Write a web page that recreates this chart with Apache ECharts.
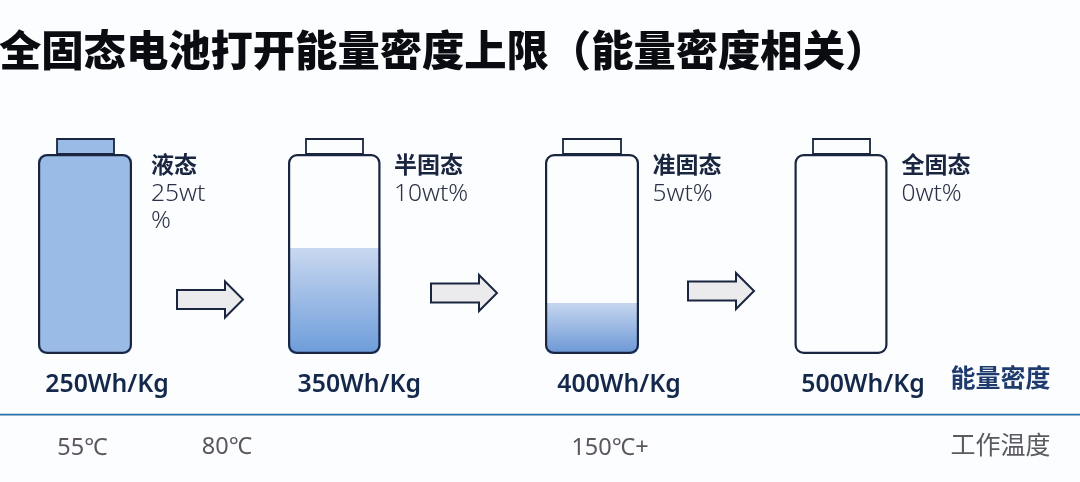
<!DOCTYPE html>
<html><head><meta charset="utf-8">
<style>html,body{margin:0;padding:0;background:#fcfdfe}#c{width:1080px;height:482px}</style>
<script src="https://cdn.jsdelivr.net/npm/echarts@6/dist/echarts.min.js"></script>
</head><body><div id="c"></div>
<script>
const title = '全固态电池打开能量密度上限（能量密度相关）';
const states = ['液态', '半固态', '准固态', '全固态'];
const wtLabels = ['25wt\n%', '10wt%', '5wt%', '0wt%'];
const energyLabels = ['250Wh/Kg', '350Wh/Kg', '400Wh/Kg', '500Wh/Kg'];
const fillLevels = [100, 53, 25.5, 0];
const capacity = [100, 100, 100, 100];
const temperatures = ['55℃', '80℃', '150℃+'];
const energyAxisName = '能量密度';
const tempAxisName = '工作温度';

const INK = '#1a2540', CJK = '"Noto Sans CJK SC"', LAT = '"Noto Sans","Noto Sans CJK SC"';
const boxes = [[38, 94], [288, 92.5], [545, 94], [794.5, 93]];
const labelShift = [22, 25, 27, 22];
const capBoxes = [[57, 57], [306, 57], [563, 58], [813, 57]];
const textX = [151, 394, 652.5, 901.5];
const arrows = [[177, 299.5], [431, 293], [688, 291]];
const tempPos = [[82.5, 448], [227, 447], [610, 448]];
const fills = [
  '#9abbe6',
  {type:'linear',x:0,y:0,x2:0,y2:1,colorStops:[{offset:0,color:'#c9d8f0'},{offset:1,color:'#6c9cda'}]},
  {type:'linear',x:0,y:0,x2:0,y2:1,colorStops:[{offset:0,color:'#c6d6ef'},{offset:1,color:'#6b97d5'}]},
  'transparent'
];

const grid = [], xAxis = [], yAxis = [], series = [], graphic = [];
states.forEach((s, i) => {
  const [l, w] = boxes[i];
  grid.push({left:l, width:w, top:154, height:200, containLabel:false});
  xAxis.push({type:'category', gridIndex:i, data:[energyLabels[i]],
    axisLine:{show:false}, axisTick:{show:false},
    axisLabel:{interval:0, hideOverlap:false, margin:19, fontFamily:LAT, fontSize:24.8, fontWeight:600, color:'#14284b',
      padding:[0,0,0,labelShift[i]*2]}});
  yAxis.push({type:'value', gridIndex:i, min:0, max:100, show:false});
  series.push({type:'bar', xAxisIndex:i, yAxisIndex:i, barWidth:'100%', barGap:'-100%', clip:false, silent:true,
    data:[fillLevels[i]], itemStyle:{color:fills[i], borderRadius:fillLevels[i]===100?8:[0,0,8,8]}});
  series.push({type:'bar', xAxisIndex:i, yAxisIndex:i, barWidth:'100%', barGap:'-100%', clip:false, silent:true, z:3,
    data:[capacity[i]], itemStyle:{color:'transparent', borderColor:INK, borderWidth:2.2, borderRadius:8}});
  const [cx, cw] = capBoxes[i];
  graphic.push({type:'rect', shape:{x:cx, y:139, width:cw, height:15},
    style:{fill:i===0?'#9abbe6':'transparent', stroke:INK, lineWidth:1.8}});
  graphic.push({type:'text', x:textX[i], y:153, style:{text:s, font:'700 23px '+CJK, fill:'#1a2540'}});
  graphic.push({type:'text', x:textX[i], y:181, style:{text:wtLabels[i], font:'300 24.5px '+LAT, fill:'#2b3247', lineHeight:27}});
});
arrows.forEach(([x, y]) => {
  graphic.push({type:'polygon', shape:{points:[[x,y-9.5],[x+48,y-9.5],[x+48,y-18],[x+66,y],[x+48,y+18],[x+48,y+9.5],[x,y+9.5]]},
    style:{fill:'#ebebee', stroke:INK, lineWidth:2, lineJoin:'miter'}});
});
graphic.push({type:'line', shape:{x1:0, y1:414.7, x2:1080, y2:414.7}, style:{stroke:'#2a6fa5', lineWidth:1.8}});
temperatures.forEach((t, i) => {
  graphic.push({type:'text', x:tempPos[i][0], y:tempPos[i][1],
    style:{text:t, font:'400 23.5px '+LAT, fill:'#5b5660', align:'center', verticalAlign:'middle'}});
});
graphic.push({type:'text', x:950.5, y:377, style:{text:energyAxisName, font:'700 25px '+CJK, fill:'#1f3b6e', verticalAlign:'middle'}});
graphic.push({type:'text', x:950.5, y:444.5, style:{text:tempAxisName, font:'400 25px '+CJK, fill:'#5a5a60', verticalAlign:'middle'}});

const chart = echarts.init(document.getElementById('c'), null, {renderer:'canvas'});
chart.setOption({
  animation:false, backgroundColor:'#fcfdfe',
  title:{text:title, left:-6, top:24, textStyle:{fontFamily:CJK, fontSize:42.3, fontWeight:900, color:'#0b0b12'}},
  grid, xAxis, yAxis, series, graphic
});
</script></body></html>
